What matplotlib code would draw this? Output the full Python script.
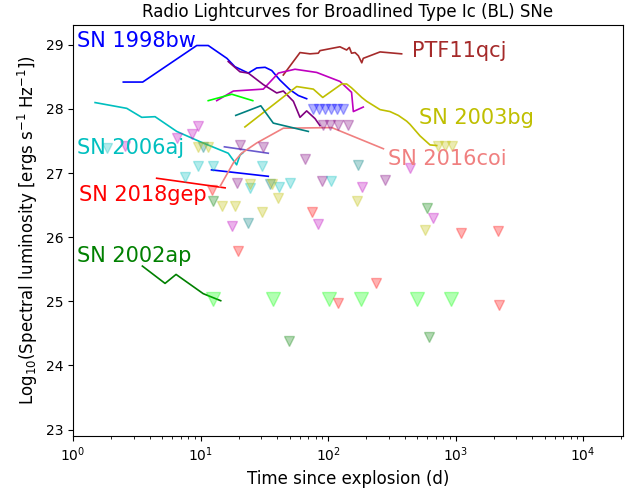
import matplotlib
matplotlib.use("Agg")
import matplotlib.pyplot as plt

# ---- detections (lines) ----
t_98bw = [2.48, 3.52, 9.34, 11.5, 16.1, 18.6, 23.7, 27.6, 32.1, 36.2, 42, 50.3, 58.5, 68]
L_98bw = [28.42, 28.42, 28.99, 28.99, 28.79, 28.66, 28.56, 28.64, 28.65, 28.60, 28.45, 28.30, 28.21, 28.16]
t_98bw_b = [12.2, 34]
L_98bw_b = [27.05, 26.95]
t_slate = [15.4, 34]
L_slate = [27.41, 27.31]

t_06aj = [1.49, 2.64, 3.46, 4.40, 6.51, 9.91, 16.5, 18.1, 19.2, 20.4, 21.6]
L_06aj = [28.10, 28.01, 27.87, 27.88, 27.65, 27.49, 27.31, 27.20, 27.13, 27.28, 27.32]

t_18gep = [4.53, 15.6]
L_18gep = [26.92, 26.77]

t_16coi = [14.2, 18.1, 21.0, 27.6, 44.6, 107, 272]
L_16coi = [26.79, 27.16, 27.31, 27.47, 27.70, 27.71, 27.38]

t_qcj = [44.6, 60.3, 72.2, 83.9, 86.5, 124, 140, 147, 153, 163, 173, 184, 189, 256, 378]
L_qcj = [28.53, 28.88, 28.86, 28.87, 28.91, 28.97, 28.92, 28.96, 28.87, 28.88, 28.83, 28.72, 28.79, 28.89, 28.86]

t_mag = [13.4, 18.1, 31.1, 40.8, 55.1, 81.5, 124, 153, 158, 189]
L_mag = [28.13, 28.28, 28.31, 28.56, 28.62, 28.57, 28.43, 28.26, 27.96, 28.03]

t_pur = [16.5, 20.4, 23.7, 31.1, 39.6, 44.6, 53.5, 60.3, 68, 79.1, 86.5]
L_pur = [28.74, 28.58, 28.56, 28.38, 28.25, 28.28, 28.12, 27.87, 27.97, 27.85, 27.74]

t_03bg = [22.3, 56.8, 76.7, 90.9, 128, 140, 153, 184, 201, 256, 306, 356, 414, 440, 527, 631, 712]
L_03bg = [27.72, 28.35, 28.31, 28.18, 28.39, 28.39, 28.33, 28.18, 28.12, 27.99, 27.96, 27.90, 27.81, 27.76, 27.58, 27.44, 27.43]

t_lime = [11.5, 17.6, 25.7]
L_lime = [28.13, 28.23, 28.13]

t_teal = [18.9, 29.7, 37.2, 70.1]
L_teal = [27.90, 28.05, 27.78, 27.65]

t_02ap = [3.50, 5.27, 6.43, 10.5, 14.4]
L_02ap = [25.55, 25.28, 25.42, 25.12, 25.01]

# ---- upper limits (triangles) ----
ul_02ap_t = [12.6, 37.2, 102, 180, 497, 917]
ul_02ap_L = [25.03, 25.03, 25.03, 25.03, 25.03, 25.03]

ul_red_t = [12.3, 19.8, 74.9, 120, 238, 1105, 2143, 2193]
ul_red_L = [26.74, 25.78, 26.40, 24.98, 25.28, 26.07, 26.09, 24.95]

ul_mag_t = [2.56, 6.51, 8.53, 9.61, 17.6, 83.9, 184, 440, 670]
ul_mag_L = [27.42, 27.55, 27.61, 27.73, 26.17, 26.20, 26.78, 27.08, 26.30]

ul_pur_t = [20.4, 31.1, 66, 19.2, 89.3, 280, 91.3, 103, 120, 144]
ul_pur_L = [27.44, 27.41, 27.22, 26.85, 26.88, 26.90, 27.75, 27.75, 27.75, 27.75]

ul_cyan_t = [1.84, 9.61, 12.5, 30.2, 7.56, 24.4, 40.9, 50.3, 105]
ul_cyan_L = [27.39, 27.11, 27.11, 27.11, 26.94, 26.76, 26.79, 26.85, 26.88]

ul_teal_t = [10.5, 35.1, 23.7, 173]
ul_teal_L = [27.41, 26.83, 26.22, 27.12]

ul_green_t = [12.6, 594, 49.7, 623]
ul_green_L = [26.56, 26.46, 24.38, 24.45]

ul_yel_t = [9.61, 11.5, 24.4, 36.2, 14.7, 18.7, 30.5, 40.8, 168, 576, 729, 827, 939]
ul_yel_L = [27.41, 27.41, 26.83, 26.83, 26.48, 26.48, 26.40, 26.61, 26.56, 26.12, 27.42, 27.42, 27.42]

ul_blue_t = [76, 85, 95, 106, 118, 130]
ul_blue_L = [28.0, 28.0, 28.0, 28.0, 28.0, 28.0]

fig = plt.figure(figsize=(6.36, 4.9), dpi=100)
ax = fig.add_axes([0.1148, 0.1102, 0.8648, 0.8388])

lw = 1.2
ax.plot(t_98bw, L_98bw, color="blue", lw=lw)
ax.plot(t_98bw_b, L_98bw_b, color="blue", lw=lw)
ax.plot(t_slate, L_slate, color="slateblue", lw=lw)
ax.plot(t_06aj, L_06aj, color="c", lw=lw)
ax.plot(t_18gep, L_18gep, color="red", lw=lw)
ax.plot(t_16coi, L_16coi, color="lightcoral", lw=lw)
ax.plot(t_qcj, L_qcj, color="brown", lw=lw)
ax.plot(t_mag, L_mag, color="m", lw=lw)
ax.plot(t_pur, L_pur, color="purple", lw=lw)
ax.plot(t_03bg, L_03bg, color="y", lw=lw)
ax.plot(t_lime, L_lime, color="lime", lw=lw)
ax.plot(t_teal, L_teal, color="teal", lw=lw)
ax.plot(t_02ap, L_02ap, color="green", lw=lw)

a = 0.3
ms = 7
ax.plot(ul_02ap_t, ul_02ap_L, "v", color="lime", alpha=a, ms=10, ls="none")
ax.plot(ul_red_t, ul_red_L, "v", color="red", alpha=a, ms=ms, ls="none")
ax.plot(ul_mag_t, ul_mag_L, "v", color="m", alpha=a, ms=ms, ls="none")
ax.plot(ul_pur_t, ul_pur_L, "v", color="purple", alpha=a, ms=ms, ls="none")
ax.plot(ul_cyan_t, ul_cyan_L, "v", color="c", alpha=a, ms=ms, ls="none")
ax.plot(ul_teal_t, ul_teal_L, "v", color="teal", alpha=a, ms=ms, ls="none")
ax.plot(ul_green_t, ul_green_L, "v", color="green", alpha=a, ms=ms, ls="none")
ax.plot(ul_yel_t, ul_yel_L, "v", color="y", alpha=a, ms=ms, ls="none")
ax.plot(ul_blue_t, ul_blue_L, "v", color="blue", alpha=a, ms=ms, ls="none")

fs = 15
ax.text(1.075, 29.06, "SN 1998bw", color="blue", fontsize=fs, va="center")
ax.text(453, 28.90, "PTF11qcj", color="brown", fontsize=fs, va="center")
ax.text(517, 27.86, "SN 2003bg", color="y", fontsize=fs, va="center")
ax.text(297, 27.22, "SN 2016coi", color="lightcoral", fontsize=fs, va="center")
ax.text(1.08, 27.39, "SN 2006aj", color="c", fontsize=fs, va="center")
ax.text(1.12, 26.66, "SN 2018gep", color="red", fontsize=fs, va="center")
ax.text(1.08, 25.71, "SN 2002ap", color="green", fontsize=fs, va="center")

ax.set_xscale("log")
ax.set_xlim(1, 2.06e4)
ax.set_ylim(22.9, 29.31)
ax.set_title("Radio Lightcurves for Broadlined Type Ic (BL) SNe", fontsize=12)
ax.set_xlabel("Time since explosion (d)", fontsize=12)
ax.set_ylabel(r"Log$_{10}$(Spectral luminosity [ergs s$^{-1}$ Hz$^{-1}$])", fontsize=12)

fig.savefig("out.png", dpi=100)
